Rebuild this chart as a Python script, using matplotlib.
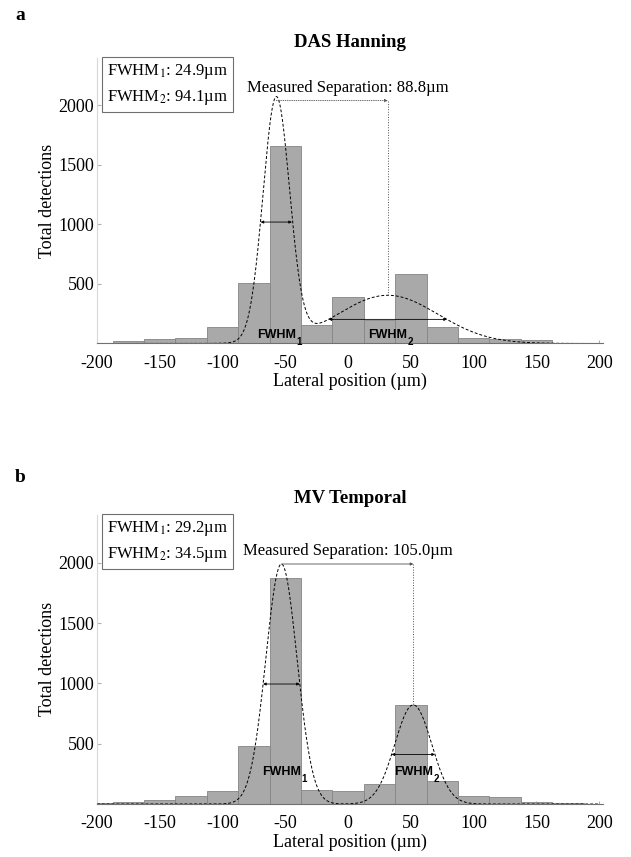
"""Localization histograms with two-Gaussian fits: DAS Hanning vs MV Temporal."""
import numpy as np
import matplotlib
matplotlib.use("Agg")
import matplotlib.pyplot as plt

plt.rcParams["font.family"] = ["Liberation Serif", "DejaVu Serif"]
plt.rcParams["mathtext.fontset"] = "stix"
plt.rcParams["axes.unicode_minus"] = False

# bin centres (um), bin width 25
bin_centers = [-200, -175, -150, -125, -100, -75, -50, -25, 0, 25, 50, 75, 100, 125, 150, 175]

das_counts = [8, 17, 35, 45, 137, 508, 1660, 158, 388, 200, 580, 137, 45, 36, 30, 6]
mv_counts = [5, 14, 33, 66, 108, 484, 1873, 116, 110, 166, 822, 193, 69, 61, 19, 6]

# gaussian fits: (peak height, centre um, fwhm um)
das_fit = [(2040, -57.2, 24.9), (405, 31.6, 94.1)]
mv_fit = [(1990, -53.1, 29.2), (822, 51.9, 34.5)]

das_title = "DAS Hanning"
mv_title = "MV Temporal"
das_sep = 88.8
mv_sep = 105.0


def gauss(x, a, mu, fwhm):
    return a * np.exp(-4 * np.log(2) * (x - mu) ** 2 / fwhm ** 2)


def draw_panel(ax, counts, fit, title, sep, label_y, sep_text_y, sep_style):
    ax.bar(bin_centers, counts, width=25, color="#a9a9a9", edgecolor="#858585",
           linewidth=0.6, zorder=2)
    xs = np.linspace(-200, 200, 800)
    ys = sum(gauss(xs, a, mu, w) for a, mu, w in fit)
    ax.plot(xs, ys, color="black", linestyle=(0, (3, 2)), linewidth=0.7, zorder=4)

    # FWHM double arrows and labels
    for i, (a, mu, w) in enumerate(fit):
        ax.annotate("", xy=(mu - w / 2, a / 2), xytext=(mu + w / 2, a / 2),
                    arrowprops=dict(arrowstyle="<|-|>", color="black", lw=0.6,
                                    mutation_scale=4, shrinkA=0, shrinkB=0),
                    zorder=5)
        t = ax.text(mu, label_y, "FWHM", family="Liberation Sans", fontweight="bold",
                    fontsize=9, ha="center", va="baseline", zorder=6)
        ax.annotate(str(i + 1), xy=(1, 0), xycoords=t, xytext=(0.5, -3),
                    textcoords="offset points", family="Liberation Sans",
                    fontweight="bold", fontsize=7, ha="left", va="baseline", zorder=6)

    # measured separation marker
    (a1, mu1, _), (a2, mu2, _) = fit
    ax.annotate("", xy=(mu2, a1), xytext=(mu1, a1),
                arrowprops=dict(arrowstyle="-|>", color="#505050", lw=0.6,
                                linestyle=sep_style, mutation_scale=4,
                                shrinkA=0, shrinkB=0), zorder=5)
    ax.plot([mu2, mu2], [a1, a2], color="#505050", linestyle=":", linewidth=0.7, zorder=5)
    ax.text(0, sep_text_y, f"Measured Separation: {sep:.1f}\u00b5m", fontsize=12,
            ha="center", va="center")

    # fwhm values box
    box = (f"FWHM$_1$: {fit[0][2]:.1f}\u00b5m\nFWHM$_2$: {fit[1][2]:.1f}\u00b5m")
    ax.text(0.02, 0.985, box, transform=ax.transAxes, fontsize=12, ha="left",
            va="top", linespacing=1.55,
            bbox=dict(boxstyle="square,pad=0.3", facecolor="white",
                      edgecolor="#707070", linewidth=0.8), zorder=7)

    ax.set_xlim(-200, 203)
    ax.set_ylim(0, 2400)
    ax.set_xticks([-200, -150, -100, -50, 0, 50, 100, 150, 200])
    ax.set_yticks([500, 1000, 1500, 2000])
    ax.tick_params(labelsize=13, direction="in", length=3, color="#b0b0b0", pad=2)
    ax.tick_params(axis="x", pad=8, length=2)
    for s in ["top", "right"]:
        ax.spines[s].set_visible(False)
    ax.spines["left"].set_color("#d8d8d8")
    ax.spines["bottom"].set_color("#707070")
    ax.set_xlabel("Lateral position (\u00b5m)", fontsize=13, labelpad=1)
    ax.set_ylabel("Total detections", fontsize=13, labelpad=2)
    ax.set_title(title, fontsize=13.5, fontweight="bold", pad=8)


fig = plt.figure(figsize=(6.31, 8.57), dpi=100)
ax_a = fig.add_axes([0.1537, 0.5992, 0.8019, 0.3334])
ax_b = fig.add_axes([0.1537, 0.0618, 0.8019, 0.3378])

draw_panel(ax_a, das_counts, das_fit, das_title, das_sep, 48, 2150, ":")
draw_panel(ax_b, mv_counts, mv_fit, mv_title, mv_sep, 240, 2100, "-")

fig.text(20 / 631, 1 - 15 / 857, "a", fontsize=14, fontweight="bold", ha="center", va="center")
fig.text(20 / 631, 1 - 477 / 857, "b", fontsize=14, fontweight="bold", ha="center", va="center")

fig.savefig("out.png", dpi=100)
